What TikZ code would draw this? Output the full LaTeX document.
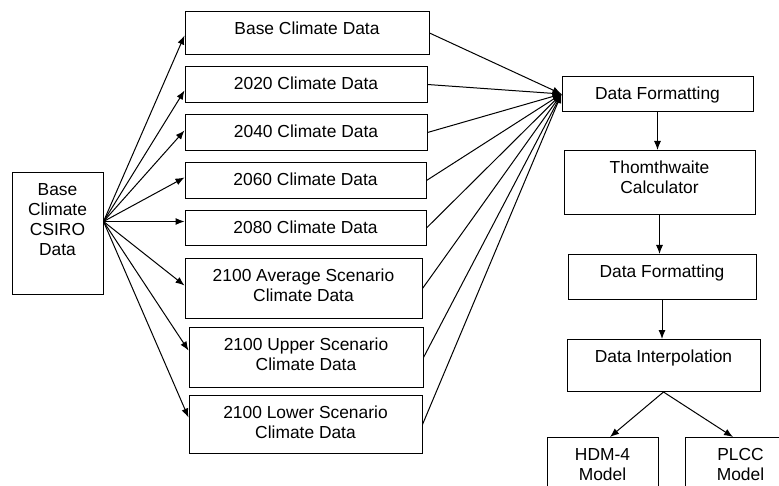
\documentclass[tikz,border=0pt]{standalone}
\usepackage{fontspec}
\setmainfont{Liberation Sans}
\usetikzlibrary{arrows.meta}
\begin{document}
\begin{tikzpicture}[x=1pt,y=-1pt,
    font=\fontsize{17.4}{20}\selectfont,
    caja/.style n args={3}{draw,line width=1pt,anchor=north,inner sep=0pt,align=center,
        minimum width=#1pt,text height=\txth pt+20pt*(#3-1),text depth=#2pt-\txth pt-20pt*(#3-1)},
    flecha/.style={line width=1pt,-{Latex[length=9pt,width=7pt]}}]

    \def\txth{23}
    \useasboundingbox (0,0) rectangle (779,486);

    %Entrada
    \node[caja={91}{122}{4}] (csiro) at (57.5,172) {Base\\Climate\\CSIRO\\Data};

    %Escenarios
    \node[caja={244}{43}{1}] (base) at (307,11) {Base Climate Data};
    \node[caja={242}{36}{1}] (y2020) at (306,66) {2020 Climate Data};
    \node[caja={242}{36}{1}] (y2040) at (306,114) {2040 Climate Data};
    \node[caja={241}{36}{1}] (y2060) at (305.5,162) {2060 Climate Data};
    \node[caja={241}{35}{1}] (y2080) at (305.5,210) {2080 Climate Data};
    \node[caja={237}{60}{2}] (avg) at (303.5,258) {2100 Average Scenario\\Climate Data};
    \node[caja={234}{60}{2}] (upper) at (306,327) {2100 Upper Scenario\\Climate Data};
    \node[caja={233}{58}{2}] (lower) at (305.5,395) {2100 Lower Scenario\\Climate Data};

    %Proceso
    \node[caja={191}{35}{1}] (fmt1) at (657.5,76) {Data Formatting};
    \node[caja={191}{64}{2}] (thorn) at (659.5,150) {Thomthwaite\\Calculator};
    \node[caja={188}{45}{1}] (fmt2) at (662,254) {Data Formatting};
    \node[caja={193}{52}{1}] (interp) at (663.5,339) {Data Interpolation};
    \node[caja={111}{70}{2}] (hdm) at (602.5,437) {HDM-4\\Model};
    \node[caja={111}{70}{2}] (plcc) at (740.5,437) {PLCC\\Model};

    %Flechas
    \coordinate (fan) at ([yshift=12pt]csiro.east);
    \foreach \t/\d in {base/-2.5,y2020/-6,y2040/2,y2060/3,y2080/6.5,avg/3,upper/7,lower/7}{
        \draw[flecha] (fan) -- ([yshift=\d pt]\t.west);
        \draw[flecha] (\t.east) -- (fmt1.west);
    }
    \draw[flecha] (fmt1.south) -- (fmt1.south |- thorn.north);
    \draw[flecha] (thorn.south) -- (thorn.south |- fmt2.north);
    \draw[flecha] (fmt2.south) -- (fmt2.south |- interp.north);
    \draw[flecha] (interp.south) -- ([xshift=7.5pt]hdm.north);
    \draw[flecha] (interp.south) -- ([xshift=-7.5pt]plcc.north);

\end{tikzpicture}
\end{document}
